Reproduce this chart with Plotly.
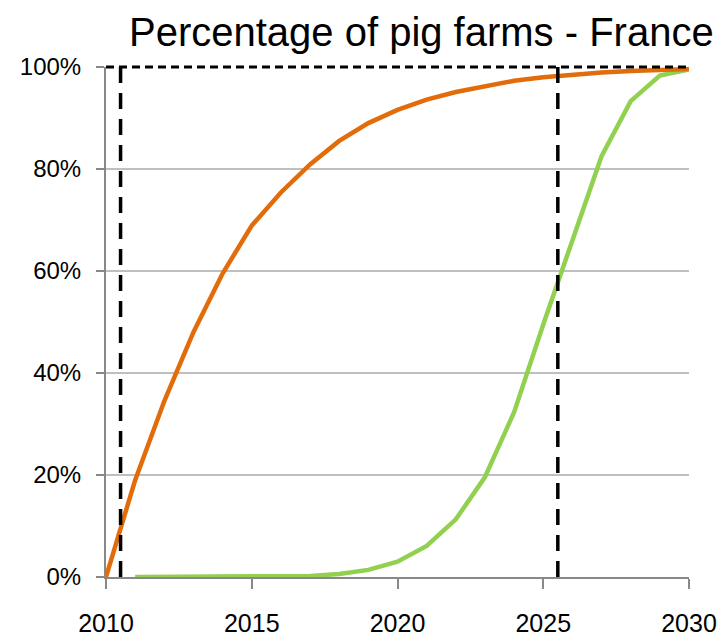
import plotly.graph_objects as go

years_orange = list(range(2010, 2031))
orange_vals = [0.0, 19.0, 34.5, 48.0, 59.5, 68.9, 75.4, 80.9, 85.5, 89.0, 91.6,
               93.6, 95.1, 96.3, 97.3, 98.0, 98.5, 98.9, 99.2, 99.4, 99.6]

years_green = list(range(2011, 2031))
green_vals = [0.0, 0.0, 0.0, 0.0, 0.05, 0.1, 0.2, 0.6, 1.4, 3.0,
              6.1, 11.3, 19.6, 32.3, 49.5, 66.0, 82.5, 93.3, 98.3, 99.5]

ref_years = [2010.5, 2025.5]
ref_top = 100.0
x_ticks = [2010, 2015, 2020, 2025, 2030]
y_ticks = [0, 20, 40, 60, 80, 100]
y_tick_labels = ["0%", "20%", "40%", "60%", "80%", "100%"]

title_text = "Percentage of pig farms - France"
FONT = "Liberation Sans, Arial, sans-serif"

fig = go.Figure()
fig.add_trace(go.Scatter(x=years_green, y=green_vals, mode="lines",
                         line=dict(color="#92D050", width=4.5), showlegend=False))
fig.add_trace(go.Scatter(x=years_orange, y=orange_vals, mode="lines",
                         line=dict(color="#E36C0A", width=4.5), showlegend=False))

for yr in ref_years:
    fig.add_shape(type="line", x0=yr, x1=yr, y0=0, y1=ref_top, xref="x", yref="y",
                  line=dict(color="black", width=3.5, dash="16px,10px"), layer="above")
# horizontal 100% reference line along the top of the plot area
fig.add_shape(type="line", x0=0, x1=1, y0=1, y1=1,
              xref="x domain", yref="y domain",
              line=dict(color="black", width=3, dash="8px,5px"), layer="above")

fig.update_layout(
    width=726, height=641,
    margin=dict(l=95, r=45, t=59, b=68),
    paper_bgcolor="white", plot_bgcolor="white",
    title=dict(text=title_text, x=0.972, xanchor="right", y=0.985, yanchor="top",
               font=dict(family=FONT, size=40, color="black")),
    font=dict(family=FONT, color="black"),
)
fig.update_xaxes(range=[2010, 2030], tickvals=x_ticks, ticks="outside", ticklen=10,
                 tickcolor="#888888", tickwidth=1.5, showline=True, linecolor="#888888",
                 linewidth=2, showgrid=False, zeroline=False, ticklabelstandoff=13,
                 tickfont=dict(family=FONT, size=25, color="black"))
fig.update_yaxes(range=[0, 100], tickvals=y_ticks, ticktext=y_tick_labels,
                 ticks="outside", ticklen=8, tickcolor="#888888", tickwidth=1.5,
                 showline=True, linecolor="#888888", linewidth=2,
                 showgrid=True, gridcolor="#BFBFBF", gridwidth=1.5, zeroline=False,
                 ticklabelstandoff=10,
                 tickfont=dict(family=FONT, size=24, color="black"))

fig.write_html("out.html")
